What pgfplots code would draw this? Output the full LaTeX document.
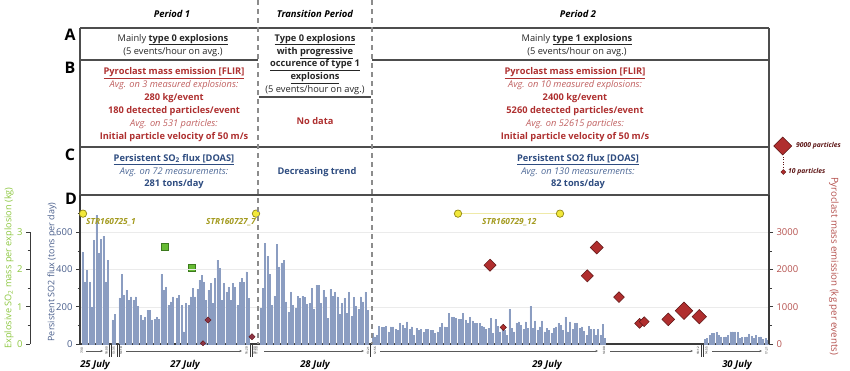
\documentclass[border=0pt]{standalone}
\usepackage{pgfplots}
\usepackage{pgfplotstable}
\pgfplotsset{compat=1.18}
\usepackage{fontspec}
\setmainfont{Open Sans}
\usetikzlibrary{arrows.meta}
\definecolor{tblgray}{HTML}{4D4D4D}
\definecolor{dashgray}{HTML}{8C8C8C}
\definecolor{redA}{HTML}{AE3030}
\definecolor{redB}{HTML}{C06060}
\definecolor{blueA}{HTML}{2E4C80}
\definecolor{blueB}{HTML}{4F6A98}
\definecolor{so2lab}{HTML}{4A5F8C}
\definecolor{pyrolab}{HTML}{B5524F}
\definecolor{greenlab}{HTML}{8CC63F}
\definecolor{barfill}{HTML}{CCD7EC}
\definecolor{baredge}{HTML}{8B9DC1}
\definecolor{sqfill}{HTML}{66BB33}
\definecolor{sqedge}{HTML}{3C7A1E}
\definecolor{yfill}{HTML}{F2E83A}
\definecolor{yedge}{HTML}{8F8512}
\definecolor{yline}{HTML}{EFEAA8}
\definecolor{ytext}{HTML}{A39A1E}
\definecolor{dfill}{HTML}{B02E2E}
\definecolor{dedge}{HTML}{5C1414}
\definecolor{mfill}{HTML}{8E3344}
\definecolor{axisgray}{HTML}{3A3A3A}
\newcommand{\fT}{\fontsize{9.3}{11}\selectfont}

% Persistent SO2 flux (tons/day); x = horizontal position on the time line
\pgfplotstableread{
x y
82.3 495
84.7 334
87.0 396
89.3 334
91.7 200
94.0 557
96.3 691
98.7 486
101.0 561
103.3 579
105.7 334
108.0 450
112.3 129
114.7 161
119.3 248
121.7 375
124.0 262
126.3 289
128.7 236
131.0 254
133.3 236
135.7 254
138.0 204
140.3 155
142.7 129
145.0 146
147.3 182
149.7 182
152.0 129
154.3 132
156.7 146
159.0 132
161.3 375
163.7 289
166.0 307
168.3 209
170.7 227
173.0 254
176.7 245
179.0 262
181.7 209
183.7 66
186.0 218
188.3 209
190.7 254
192.7 298
195.0 254
197.3 293
199.3 343
201.7 370
204.0 334
206.0 236
208.3 289
210.7 325
212.7 218
215.0 352
217.3 450
219.3 405
221.7 236
224.0 325
226.3 280
228.3 307
230.7 236
233.0 325
235.0 307
237.3 209
239.7 334
241.7 352
244.0 330
246.3 388
248.5 245
260.3 191
262.7 298
265.0 539
267.3 471
269.7 375
272.0 209
274.3 257
276.7 534
279.0 414
281.3 436
283.7 450
286.0 227
288.3 173
290.7 280
293.0 209
295.3 191
297.7 257
300.0 245
302.3 257
304.7 250
307.0 214
309.3 218
311.7 298
314.0 186
316.3 316
318.7 316
321.0 218
323.3 289
325.7 254
328.0 138
330.3 293
332.7 257
335.0 280
337.3 254
339.7 159
342.0 218
344.3 245
346.7 164
349.0 280
351.3 147
353.7 250
356.0 204
358.3 186
360.7 254
363.0 227
365.3 280
367.7 182
372.7 57
374.7 39
376.7 48
379.0 96
381.3 88
383.7 88
386.0 96
388.3 66
390.7 93
393.0 93
395.3 79
397.7 75
400.0 114
402.3 102
404.7 84
407.0 120
409.3 79
411.7 93
414.0 48
416.3 84
418.7 75
421.0 79
423.3 61
425.7 79
428.0 79
430.3 75
432.7 75
435.0 57
437.3 66
439.7 88
442.0 111
444.3 93
446.7 89
449.0 164
451.3 146
453.7 146
456.0 138
458.3 132
460.7 132
463.0 164
465.3 129
467.7 114
470.0 146
472.3 125
474.7 111
477.0 110
479.3 111
481.5 96
483.7 93
486.0 79
488.3 84
490.7 138
493.0 57
495.3 132
497.7 96
500.0 66
502.3 79
504.7 75
507.0 48
509.3 186
511.7 84
514.0 66
516.3 114
518.7 120
521.0 102
523.3 79
525.7 120
528.0 84
530.3 204
532.7 84
535.0 125
537.3 75
539.7 93
542.0 125
544.3 66
546.7 84
549.0 75
551.3 57
553.7 84
556.0 93
558.3 111
560.7 102
563.0 75
565.3 146
567.7 66
570.0 120
572.3 79
574.7 111
577.0 114
579.3 84
581.7 93
584.0 71
586.3 48
588.7 96
591.0 79
593.3 79
595.7 48
598.0 79
600.3 48
602.7 107
604.7 30
705.0 25
707.0 30
709.3 48
711.7 57
714.0 57
716.3 61
718.7 48
721.0 39
723.3 36
725.7 39
728.0 48
730.3 66
732.7 66
735.0 66
737.3 62
739.7 30
742.0 36
744.3 36
746.7 39
749.0 54
751.3 43
753.7 30
756.0 48
758.3 36
760.7 39
763.0 25
765.3 30
767.7 21
}\sotwo

\begin{document}
\begin{tikzpicture}
\useasboundingbox (0,0) rectangle (850bp,-371bp);
\begin{scope}[x=1bp,y=-1bp]
 \draw[tblgray, line width=1.1bp] (80,28) -- (769,28);
 \draw[tblgray, line width=1.1bp] (80,60) -- (258,60) (372,60) -- (769,60);
 \draw[tblgray, line width=1.1bp] (259,97) -- (371,97);
 \draw[tblgray, line width=1.1bp] (80,147) -- (769,147);
 \draw[tblgray, line width=1.1bp] (80,195) -- (769,195);
 \draw[tblgray, line width=1.1bp] (80,28) -- (80,195);
 \draw[tblgray, line width=1.1bp] (769,28) -- (769,195);
\end{scope}

% green axis: explosive SO2 mass per explosion (kg)
\begin{axis}[
  at={(30bp,-344bp)}, anchor=south west,
  width=739bp, height=112bp, scale only axis,
  xmin=30, xmax=769, ymin=0, ymax=3, enlargelimits=false,
  axis x line=none, axis y line*=left,
  axis line style={-, draw=axisgray, line width=1bp},
  ytick={0,1,2,3}, minor ytick={0.5,1.5,2.5},
  tick align=outside, major tick length=4bp, minor tick length=2.5bp,
  ytick style={draw=axisgray, line width=0.6bp},
  tick label style={font=\fontsize{9.5}{11}\selectfont},
  yticklabel style={text=greenlab},
  /pgf/number format/assume math mode=true,
  clip=false,
]
\addplot[only marks, mark=square*, mark size=3.3bp,
  mark options={fill=sqfill, draw=sqedge, line width=0.5bp}]
  coordinates {(165,2.6) (192,2.05)};
\end{axis}

% main axis: persistent SO2 flux
\begin{axis}[
  at={(80bp,-344bp)}, anchor=south west,
  width=689bp, height=149bp, scale only axis,
  xmin=80, xmax=769, ymin=0, ymax=800, enlargelimits=false,
  axis x line*=bottom, axis y line*=left,
  axis line style={-, draw=axisgray, line width=1.1bp},
  xtick=\empty,
  ytick={0,200,400,600}, minor ytick={100,300,500,700},
  tick align=outside, major tick length=4bp, minor tick length=2.5bp,
  ytick style={draw=axisgray, line width=0.6bp},
  ymajorgrids, major grid style={draw=black!8, line width=0.4bp},
  tick label style={font=\fontsize{9.5}{11}\selectfont},
  yticklabel style={text=so2lab},
  /pgf/number format/assume math mode=true,
  clip=false,
]
\addplot[ybar, bar width=0.8bp, bar shift=0pt, fill=barfill, draw=baredge, line width=0.3bp]
  table[x=x,y=y] {\sotwo};
\addplot[draw=yline, line width=1.6bp] coordinates {(458,700) (560,700)};
\addplot[only marks, mark=*, mark size=3.7bp,
  mark options={fill=yfill, draw=yedge, line width=0.7bp}]
  coordinates {(83,700) (256,700) (458,700) (560,700)};
\end{axis}

% right axis: pyroclast mass emission (kg per event)
\begin{axis}[
  at={(80bp,-344bp)}, anchor=south west,
  width=689bp, height=149bp, scale only axis,
  xmin=80, xmax=769, ymin=0, ymax=4000, enlargelimits=false,
  axis x line=none, axis y line*=right,
  axis line style={-, draw=axisgray, line width=1.1bp},
  ytick={0,1000,2000,3000}, minor ytick={500,1500,2500},
  scaled y ticks=false,
  /pgf/number format/1000 sep={},
  tick align=outside, major tick length=4bp, minor tick length=2.5bp,
  ytick style={draw=axisgray, line width=0.6bp},
  tick label style={font=\fontsize{9.5}{11}\selectfont},
  yticklabel style={text=pyrolab},
  /pgf/number format/assume math mode=true,
  clip=false,
  dia/.style={only marks, mark=square*, mark size=#1,
    mark options={rotate=45, fill=dfill, draw=dedge, line width=0.5bp}},
  diam/.style={only marks, mark=square*, mark size=#1,
    mark options={rotate=45, fill=mfill, draw=dedge, line width=0.4bp}},
]
\addplot[diam=1.8bp] coordinates {(203,20)};
\addplot[diam=2.2bp] coordinates {(208,643) (252,195)};
\addplot[dia=4.3bp] coordinates {(490,2116) (587.3,1830)};
\addplot[dia=2.2bp] coordinates {(503.3,446)};
\addplot[dia=4.6bp] coordinates {(596.7,2590)};
\addplot[dia=3.8bp] coordinates {(619,1260)};
\addplot[dia=3.5bp] coordinates {(639.6,554) (644.2,598)};
\addplot[dia=4.5bp] coordinates {(668.3,661)};
\addplot[dia=6.2bp] coordinates {(684,893)};
\addplot[dia=5.1bp] coordinates {(699.3,733)};
\end{axis}

\begin{scope}[x=1bp,y=-1bp]
 % dashed period separators
 \draw[dashgray, line width=1.5bp, dash pattern=on 5bp off 4bp] (258,0) -- (258,344);
 \draw[dashgray, line width=1.5bp, dash pattern=on 5bp off 4bp] (372,0) -- (372,344);
 % period titles
 \begin{scope}[every node/.style={anchor=base, font=\fontsize{9.5}{11}\selectfont\bfseries\itshape}]
  \node at (172,17.5) {Period 1};
  \node at (315,17.5) {Transition Period};
  \node at (578,17.5) {Period 2};
 \end{scope}
 % panel letters
 \begin{scope}[every node/.style={font=\fontsize{16}{16}\selectfont\bfseries}]
  \node at (70,34.5) {A};
  \node at (70,67.5) {B};
  \node at (70,155) {C};
  \node at (71,199) {D};
 \end{scope}
 \begin{scope}[every node/.style={anchor=base, font=\fT, text=black!85, inner sep=0.5bp}]
  % row A
  \node at (173,41) {Mainly \underline{\textbf{type 0 explosions}}};
  \node at (173,54.3) {(5 events/hour on avg.)};
  \node at (577,41) {Mainly \underline{\textbf{type 1 explosions}}};
  \node at (577,54.3) {(5 events/hour on avg.)};
  \node at (315,41) {\underline{\textbf{Type 0 explosions}}};
  \node at (315,54.3) {\textbf{with \underline{progressive}}};
  \node at (315,66.6) {\underline{\textbf{occurence of type 1}}};
  \node at (315,79.6) {\underline{\textbf{explosions}}};
  \node at (315,92.6) {(5 events/hour on avg.)};
  % row B
  \node[text=redA] at (174,74.6) {\underline{\textbf{Pyroclast mass emission [FLIR]}}};
  \node[text=redB] at (174,87.3) {\itshape Avg. on 3 measured explosions:};
  \node[text=redA] at (174,100.3) {\textbf{280 kg/event}};
  \node[text=redA] at (174,113.3) {\textbf{180 detected particles/event}};
  \node[text=redB] at (174,126.3) {\itshape Avg. on 531 particles:};
  \node[text=redA] at (174,139.3) {\textbf{Initial particle velocity of 50 m/s}};
  \node[text=redA] at (575,74.6) {\underline{\textbf{Pyroclast mass emission [FLIR]}}};
  \node[text=redB] at (575,87.3) {\itshape Avg. on 10 measured explosions:};
  \node[text=redA] at (575,100.3) {\textbf{2400 kg/event}};
  \node[text=redA] at (575,113.3) {\textbf{5260 detected particles/event}};
  \node[text=redB] at (575,126.3) {\itshape Avg. on 52615 particles:};
  \node[text=redA] at (575,139.3) {\textbf{Initial particle velocity of 50 m/s}};
  \node[text=redA] at (315,124.3) {\textbf{No data}};
  % row C
  \node[text=blueA] at (174,161) {\underline{\textbf{Persistent SO\textsubscript{2} flux [DOAS]}}};
  \node[text=blueB] at (174,174.3) {\itshape Avg. on 72 measurements:};
  \node[text=blueA] at (174,186.6) {\textbf{281 tons/day}};
  \node[text=blueA] at (578,161) {\underline{\textbf{Persistent SO2 flux [DOAS]}}};
  \node[text=blueB] at (578,174.3) {\itshape Avg. on 130 measurements:};
  \node[text=blueA] at (578,186.6) {\textbf{82 tons/day}};
  \node[text=blueA] at (317,174.3) {\textbf{Decreasing trend}};
 \end{scope}
 % sample labels
 \begin{scope}[every node/.style={font=\fontsize{8.4}{9}\selectfont\bfseries\itshape, text=ytext, inner sep=0pt}]
  \node[anchor=west] at (86,222.5) {STR160725\_1};
  \node[anchor=east] at (256,222.5) {STR160727\_7};
  \node[anchor=west] at (482,222.5) {STR160729\_12};
 \end{scope}
 % axis titles
 \node[rotate=90, font=\fontsize{9.2}{11}\selectfont, text=greenlab] at (9,268) {Explosive SO\textsubscript{2} mass per explosion (kg)};
 \node[rotate=90, font=\fontsize{9}{11}\selectfont, text=so2lab] at (52,272) {Persistent SO2 flux (tons per day)};
 \node[rotate=-90, font=\fontsize{9.7}{11}\selectfont, text=pyrolab] at (834,266) {Pyroclast mass emission (kg per events)};
 % size legend
 \draw[fill=dfill, draw=dedge, line width=0.5bp] (782.7,137) -- (791.7,146) -- (782.7,155) -- (773.7,146) -- cycle;
 \draw[dedge, line width=0.5bp, dotted] (783,157) -- (783,168);
 \draw[fill=dfill, draw=dedge, line width=0.4bp] (783.3,169.5) -- (785.8,172) -- (783.3,174.5) -- (780.8,172) -- cycle;
 \node[anchor=west, inner sep=0pt, font=\fontsize{6.8}{8}\selectfont\bfseries\itshape, text=dedge] at (796,146) {9000 particles};
 \node[anchor=west, inner sep=0pt, font=\fontsize{6.8}{8}\selectfont\bfseries\itshape, text=dedge] at (788,172) {10 particles};
 % time axis annotations
 \begin{scope}[every node/.style={rotate=90, font=\fontsize{3}{3}\selectfont, inner sep=0pt}]
  \node at (81.8,351) {7:30};
  \node at (106.5,351) {18:00};
  \node at (113.8,351) {13:35};
  \node at (121,351) {14:10};
  \node at (246.5,351) {16:20};
  \node at (254.5,351) {18:00};
  \node at (256.6,351) {11:50};
  \node at (368,351) {13:21};
  \node at (375,351) {12:56};
  \node at (604,351) {14:00};
  \node at (698,351) {18:12};
  \node at (706.5,351) {14:55};
  \node at (766.5,351) {17:21};
 \end{scope}
 \begin{scope}[axisgray, line width=0.5bp]
  \draw (109.7,344) -- (109.7,357); \draw (111.2,344) -- (111.2,357);
  \draw (117.3,344) -- (117.3,357); \draw (118.8,344) -- (118.8,357);
  \draw (250,344) -- (250,357); \draw (252.3,344) -- (252.3,357);
  \draw (370.5,344) -- (370.5,357);
  \draw (701.4,344) -- (701.4,357); \draw (703,344) -- (703,357);
 \end{scope}
 \begin{scope}[-{Stealth[length=2.5bp,width=2bp]}, line width=0.4bp, draw=black!65]
  \draw (86,351) -- (103,351);
  \draw (126,351) -- (242,351);
  \draw (264,351) -- (364,351);
  \draw (380,351) -- (598,351);
  \draw (610,351) -- (693,351);
  \draw (712,351) -- (762,351);
 \end{scope}
 % day labels
 \begin{scope}[every node/.style={anchor=base, font=\fontsize{9.5}{11}\selectfont\bfseries\itshape}]
  \node at (95,367.5) {25 July};
  \node at (185,367.5) {27 July};
  \node at (315,367.5) {28 July};
  \node at (547,367.5) {29 July};
  \node at (737,367.5) {30 July};
 \end{scope}
\end{scope}
\end{tikzpicture}
\end{document}
